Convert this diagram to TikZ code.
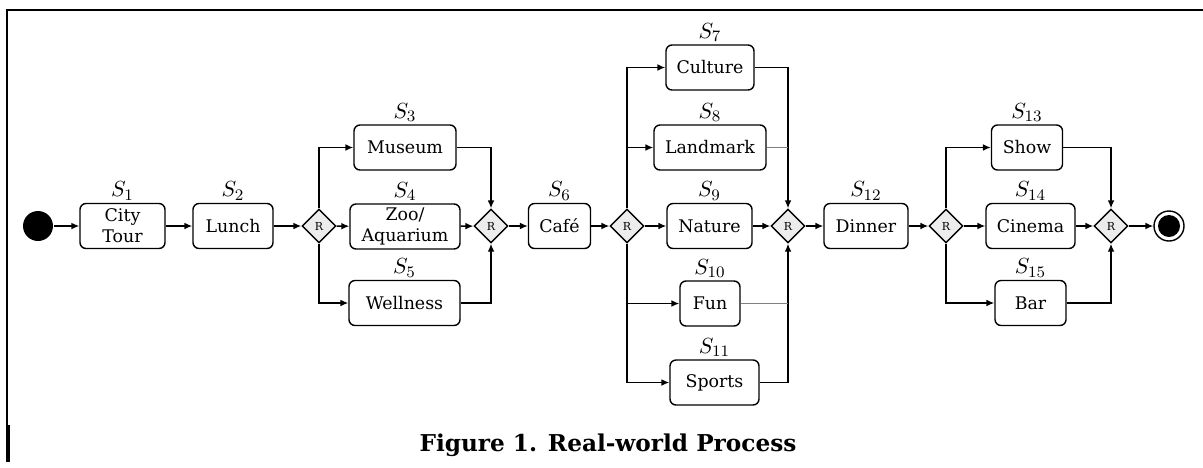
\documentclass[tikz,border=0pt]{standalone}
\usepackage{fontspec}
\setmainfont{DejaVu Serif}
\usetikzlibrary{arrows.meta, shapes.geometric, positioning}

\begin{document}
\begin{tikzpicture}[x=0.5pt, y=-0.5pt, >={Latex[length=4pt,width=3.4pt]}, line width=0.7pt,
  task/.style={draw, rounded corners=3pt, minimum height=22.5pt, inner sep=1pt, align=center,
    font=\fontsize{8.7}{10.5}\selectfont},
  xor/.style={diamond, draw, fill=gray!15, minimum width=17pt, minimum height=17pt, inner sep=0pt,
    font=\fontsize{5.5}{6}\selectfont},
  sname/.style={inner sep=1pt, font=\fontsize{11}{12}\selectfont},
  thinline/.style={line width=0.4pt, gray}]

\useasboundingbox (0,0) rectangle (1203,467);

% frame and caption
\draw[line width=0.6pt] (1203,10) -- (7,10) -- (7,425);
\draw[line width=1.6pt] (8,425) -- (8,462);
\node (caption) at (608,445) {\fontsize{11.6}{13}\selectfont\bfseries Figure 1. Real-world Process};

% define the start and end states
\node[circle, fill=black, minimum size=15pt, inner sep=0pt] (start) at (38,226) {};
\node[circle, draw, minimum size=15pt, inner sep=0pt,
  path picture={\fill (path picture bounding box.center) circle (5.5pt);}] (stop) at (1169,226) {};

% define the services
\node[task, minimum width=42.5pt] (city)     at (122.5,226)  {City\\Tour};
\node[task, minimum width=40pt]   (lunch)    at (233,226)    {Lunch};
\node[task, minimum width=51pt]   (museum)   at (405,147.5)  {Museum};
\node[task, minimum width=55pt]   (zoo)      at (405,226.5)  {Zoo/\\Aquarium};
\node[task, minimum width=55.5pt] (wellness) at (404.5,303)  {Wellness};
\node[task, minimum width=31pt]   (cafe)     at (559.5,226)  {Café};
\node[task, minimum width=44pt]   (culture)  at (710,67.5)   {Culture};
\node[task, minimum width=56pt]   (landmark) at (710,147.5)  {Landmark};
\node[task, minimum width=42.5pt] (nature)   at (709.5,226)  {Nature};
\node[task, minimum width=30pt]   (fun)      at (710,303.5)  {Fun};
\node[task, minimum width=44.5pt] (sports)   at (714.5,382.5) {Sports};
\node[task, minimum width=42pt]   (dinner)   at (866,226)    {Dinner};
\node[task, minimum width=35.5pt] (show)     at (1027,147.5) {Show};
\node[task, minimum width=44.5pt] (cinema)   at (1030.5,226) {Cinema};
\node[task, minimum width=35.5pt] (bar)      at (1030.5,303) {Bar};

% define the service names
\node[sname] (s1)  [above=0pt of city]     {$S_{1}$};
\node[sname] (s2)  [above=0pt of lunch]    {$S_{2}$};
\node[sname] (s3)  [above=0pt of museum]   {$S_{3}$};
\node[sname] (s4)  [above=0pt of zoo]      {$S_{4}$};
\node[sname] (s5)  [above=0pt of wellness] {$S_{5}$};
\node[sname] (s6)  [above=0pt of cafe]     {$S_{6}$};
\node[sname] (s7)  [above=0pt of culture]  {$S_{7}$};
\node[sname] (s8)  [above=0pt of landmark] {$S_{8}$};
\node[sname] (s9)  [above=0pt of nature]   {$S_{9}$};
\node[sname] (s10) [above=0pt of fun]      {$S_{10}$};
\node[sname] (s11) [above=0pt of sports]   {$S_{11}$};
\node[sname] (s12) [above=0pt of dinner]   {$S_{12}$};
\node[sname] (s13) [above=0pt of show]     {$S_{13}$};
\node[sname] (s14) [above=0pt of cinema]   {$S_{14}$};
\node[sname] (s15) [above=0pt of bar]      {$S_{15}$};

% define the gateways
\node[xor] (d1) at (319,226)  {R};
\node[xor] (d2) at (491,226)  {R};
\node[xor] (d3) at (627,226)  {R};
\node[xor] (d4) at (788,226)  {R};
\node[xor] (d5) at (946,226)  {R};
\node[xor] (d6) at (1111,226) {R};

% define the main line
\path[->] (start) edge (city)
          (city) edge (lunch)
          (lunch) edge (d1)
          (d1) edge (zoo)
          (zoo) edge (d2)
          (d2) edge (cafe)
          (cafe) edge (d3)
          (d3) edge (nature)
          (nature) edge (d4)
          (d4) edge (dinner)
          (dinner) edge (d5)
          (d5) edge (cinema)
          (cinema) edge (d6)
          (d6) edge (stop);

% define the branches
\draw[->] (d1.north) |- (museum);
\draw[->] (d1.south) |- (wellness);
\draw[->] (museum) -| (d2.north);
\draw[->] (wellness) -| (d2.south);

\draw[->] (d3.north) |- (culture);
\draw[->] (d3.north) |- (landmark);
\draw[->] (d3.south) |- (fun);
\draw[->] (d3.south) |- (sports);
\draw[->] (culture) -| (d4.north);
\draw[->] (sports) -| (d4.south);
\draw[thinline] (landmark) -- (landmark -| d4.north);
\draw[thinline] (fun) -- (fun -| d4.south);

\draw[->] (d5.north) |- (show);
\draw[->] (d5.south) |- (bar);
\draw[->] (show) -| (d6.north);
\draw[->] (bar) -| (d6.south);

\end{tikzpicture}
\end{document}
